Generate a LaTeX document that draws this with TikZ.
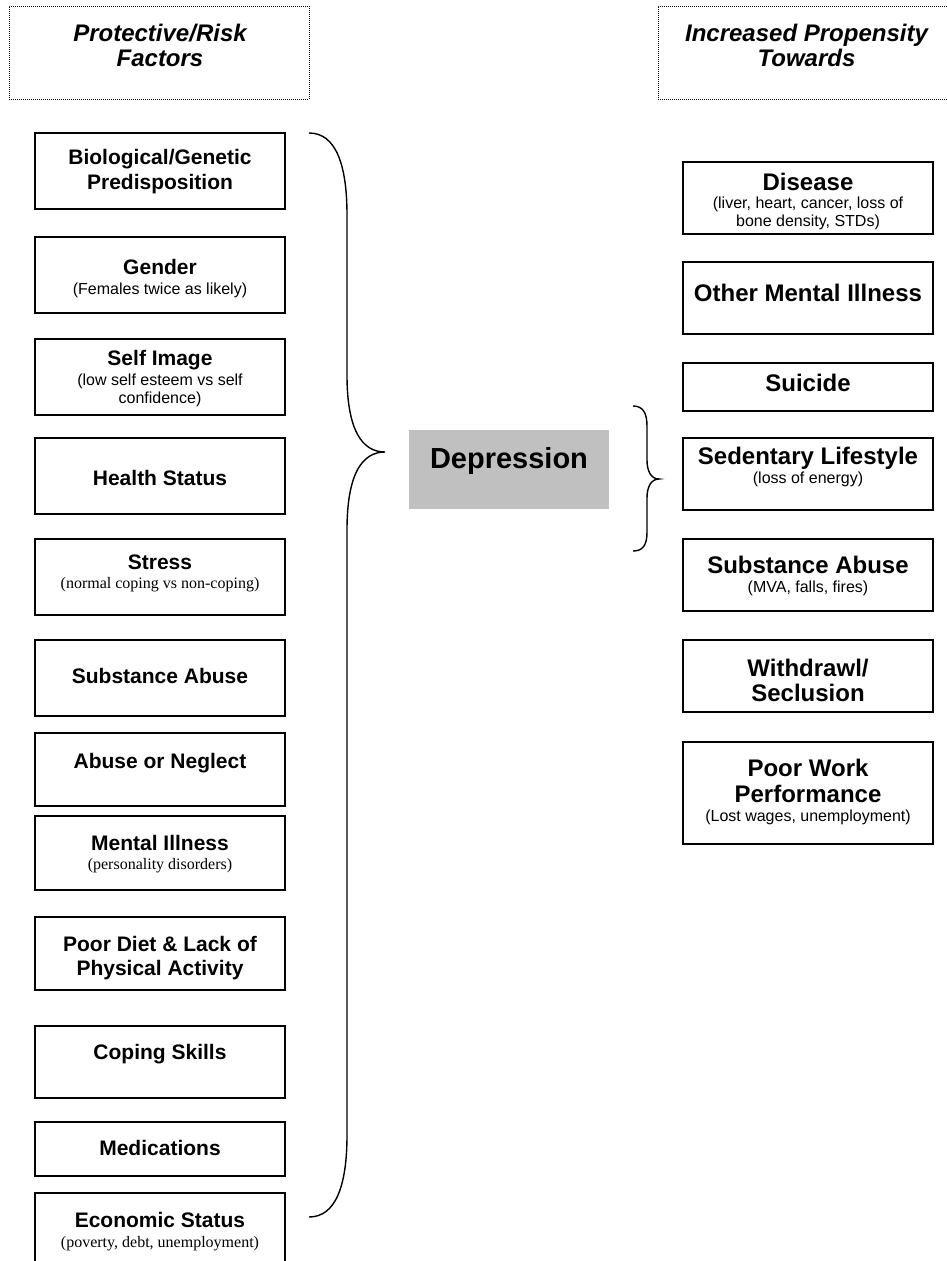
\documentclass[tikz,border=0pt]{standalone}
\usepackage{fontspec}
\setmainfont{Liberation Sans}
\newfontfamily\timesf{Liberation Serif}
\definecolor{depgray}{RGB}{192,192,192}
\begin{document}
\begin{tikzpicture}[x=1pt,y=-1pt,
  box/.style={draw, line width=1.4pt, rectangle, inner sep=0pt, minimum width=250pt},
  hdbox/.style={draw, line width=0.9pt, dash pattern=on 1pt off 1pt, rectangle, inner sep=0pt},
  tb/.style={font=\fontsize{21}{25}\selectfont\bfseries, inner sep=0pt, anchor=base},
  rb/.style={font=\fontsize{24}{27}\selectfont\bfseries, inner sep=0pt, anchor=base},
  ts/.style={font=\fontsize{16}{18}\selectfont, inner sep=0pt, anchor=base},
  tt/.style={font=\fontsize{16}{18}\selectfont\timesf, inner sep=0pt, anchor=base},
  hd/.style={font=\fontsize{24}{27}\selectfont\bfseries\itshape, inner sep=0pt, anchor=base},
  brace/.style={draw, line width=1.4pt}]
\path[use as bounding box, clip] (0,0) rectangle (947,1261);

% headers
\node[hdbox, minimum width=300pt, minimum height=93pt] (hl) at (159,52.5) {};
\node[hd] (hlt1) at (160,41.7) {Protective/Risk};
\node[hd] (hlt2) at (160,66.7) {Factors};
\node[hdbox, minimum width=310pt, minimum height=93pt] (hr) at (813,52.5) {};
\node[hd] (hrt1) at (806.5,41.7) {Increased Propensity};
\node[hd] (hrt2) at (806.5,66.7) {Towards};

% left column
\node[box, minimum height=76pt] (l1) at (160,171) {};
\node[tb] (l1a) at (160,164) {Biological/Genetic};
\node[tb] (l1b) at (160,189) {Predisposition};

\node[box, minimum height=76pt] (l2) at (160,275) {};
\node[tb] (l2a) at (160,274) {Gender};
\node[ts] (l2b) at (160,294) {(Females twice as likely)};

\node[box, minimum height=76pt] (l3) at (160,377) {};
\node[tb] (l3a) at (160,365) {Self Image};
\node[ts] (l3b) at (160,385) {(low self esteem vs self};
\node[ts] (l3c) at (160,403) {confidence)};

\node[box, minimum height=76pt] (l4) at (160,476) {};
\node[tb] (l4a) at (160,485) {Health Status};

\node[box, minimum height=76pt] (l5) at (160,577) {};
\node[tb] (l5a) at (160,569) {Stress};
\node[tt] (l5b) at (160,588) {(normal coping vs non-coping)};

\node[box, minimum height=76pt] (l6) at (160,678) {};
\node[tb] (l6a) at (160,683) {Substance Abuse};

\node[box, minimum height=73pt] (l7) at (160,769.5) {};
\node[tb] (l7a) at (160,768) {Abuse or Neglect};

\node[box, minimum height=74pt] (l8) at (160,853) {};
\node[tb] (l8a) at (160,850) {Mental Illness};
\node[tt] (l8b) at (160,869) {(personality disorders)};

\node[box, minimum height=73pt] (l9) at (160,953.5) {};
\node[tb] (l9a) at (160,951) {Poor Diet \& Lack of};
\node[tb] (l9b) at (160,975) {Physical Activity};

\node[box, minimum height=72pt] (l10) at (160,1062) {};
\node[tb] (l10a) at (160,1059) {Coping Skills};

\node[box, minimum height=54pt] (l11) at (160,1149) {};
\node[tb] (l11a) at (160,1155) {Medications};

\node[box, minimum height=82pt] (l12) at (160,1234) {};
\node[tb] (l12a) at (160,1227) {Economic Status};
\node[tt] (l12b) at (160,1247) {(poverty, debt, unemployment)};

% center
\node[fill=depgray, minimum width=200pt, minimum height=79pt, inner sep=0pt] (dep) at (509,469.5) {};
\node[font=\fontsize{29}{33}\selectfont\bfseries, inner sep=0pt, anchor=base] (dept) at (509,468) {Depression};

% right column
\node[box, minimum height=72pt] (r1) at (808,198) {};
\node[rb] (r1a) at (808,190) {Disease};
\node[ts] (r1b) at (808,208) {(liver, heart, cancer, loss of};
\node[ts] (r1c) at (808,226) {bone density, STDs)};

\node[box, minimum height=72pt] (r2) at (808,298) {};
\node[rb] (r2a) at (808,301) {Other Mental Illness};

\node[box, minimum height=48pt] (r3) at (808,387) {};
\node[rb] (r3a) at (808,391) {Suicide};

\node[box, minimum height=72pt] (r4) at (808,474) {};
\node[rb] (r4a) at (808,464) {Sedentary Lifestyle};
\node[ts] (r4b) at (808,483) {(loss of energy)};

\node[box, minimum height=72pt] (r5) at (808,575) {};
\node[rb] (r5a) at (808,573) {Substance Abuse};
\node[ts] (r5b) at (808,592) {(MVA, falls, fires)};

\node[box, minimum height=72pt] (r6) at (808,676) {};
\node[rb] (r6a) at (808,676) {Withdrawl/};
\node[rb] (r6b) at (808,701) {Seclusion};

\node[box, minimum height=102pt] (r7) at (808,793) {};
\node[rb] (r7a) at (808,776) {Poor Work};
\node[rb] (r7b) at (808,802) {Performance};
\node[ts] (r7c) at (808,821) {(Lost wages, unemployment)};

% braces
\draw[brace] (309,133) .. controls (336,133) and (347,165) .. (347,215)
  -- (347,375) .. controls (347,430) and (362,452) .. (385,452)
  .. controls (362,452) and (347,474) .. (347,530)
  -- (347,1135) .. controls (347,1185) and (336,1217) .. (309,1217);
\draw[brace] (633,406) .. controls (643,406) and (647,413) .. (647,426)
  -- (647,460) .. controls (647,471) and (651,479) .. (659,479)
  .. controls (651,479) and (647,487) .. (647,498)
  -- (647,532) .. controls (647,545) and (643,551) .. (633,551);
\end{tikzpicture}
\end{document}
